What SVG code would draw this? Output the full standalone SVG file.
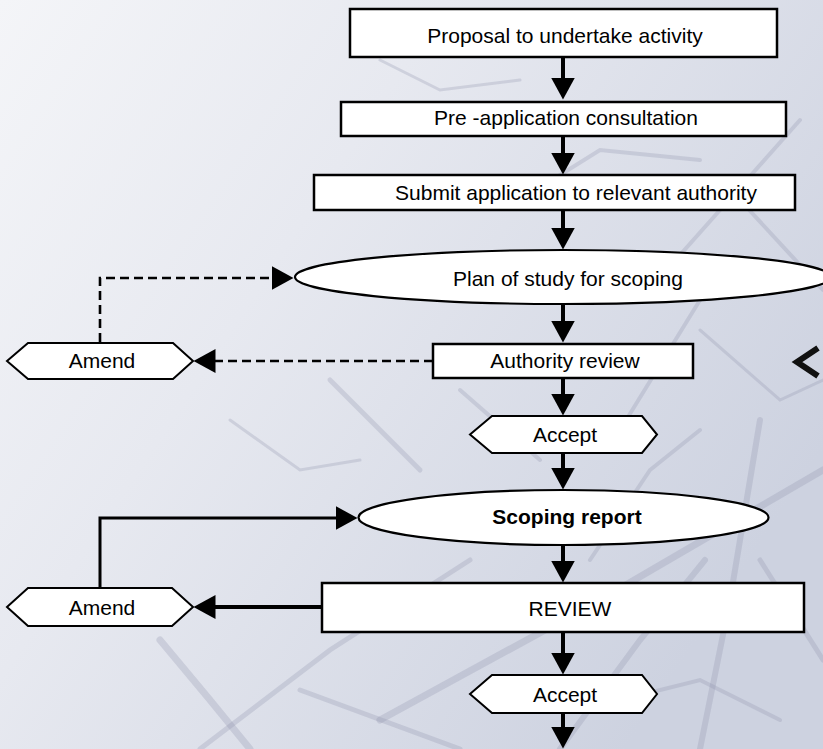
<svg xmlns="http://www.w3.org/2000/svg" width="823" height="749" viewBox="0 0 823 749">
  <defs>
    <linearGradient id="bg" x1="0" y1="0" x2="1" y2="0.6">
      <stop offset="0" stop-color="#f4f5f8"/>
      <stop offset="0.4" stop-color="#e7e9f0"/>
      <stop offset="1" stop-color="#cdd2e0"/>
    </linearGradient>
    <marker id="ah" markerUnits="userSpaceOnUse" markerWidth="23" markerHeight="24" viewBox="0 0 23 24" refX="0.5" refY="12" orient="auto">
      <path d="M0,0 L22,12 L0,24 Z" fill="#000"/>
    </marker>
    <style>
      .box { fill: #fff; stroke: #000; stroke-width: 2.5; }
      .ell { fill: #fff; stroke: #000; stroke-width: 2.2; }
      .hex { fill: #fff; stroke: #000; stroke-width: 2; }
      .lbl { font-family: "Liberation Sans", Arial, sans-serif; font-size: 21px; fill: #000; text-anchor: middle; }
      .bold { font-weight: bold; }
      .main { fill: none; stroke: #000; stroke-width: 4; marker-end: url(#ah); }
      .fb { fill: none; stroke: #000; stroke-width: 3; marker-end: url(#ah); }
      .dash { fill: none; stroke: #000; stroke-width: 2.6; stroke-dasharray: 9 5; marker-end: url(#ah); }
      .branch { fill: none; stroke: #8f95ad; stroke-linecap: round; opacity: 0.28; }
    </style>
  </defs>

  <g id="background">
    <rect x="0" y="0" width="823" height="749" fill="url(#bg)"/>
    <path class="branch" stroke-width="7" d="M380,720 L600,600 L823,470"/>
    <path class="branch" stroke-width="5" d="M200,749 L330,650 L470,560"/>
    <path class="branch" stroke-width="6" d="M560,749 L640,640 L705,560"/>
    <path class="branch" stroke-width="4" d="M640,300 L720,210 L800,120"/>
    <path class="branch" stroke-width="6" d="M700,749 L730,600 L760,420"/>
    <path class="branch" stroke-width="5" d="M420,470 L370,420 L330,380"/>
    <path class="branch" stroke-width="7" d="M160,640 L210,700 L250,749"/>
    <path class="branch" stroke-width="5" d="M300,690 L460,749"/>
    <path class="branch" stroke-width="4" d="M740,200 L823,290"/>
    <path class="branch" stroke-width="4" d="M620,430 L700,300"/>
    <path class="branch" stroke-width="4" d="M460,390 L540,460"/>
    <path class="branch" stroke-width="5" d="M760,560 L823,660"/>
    <path class="branch" stroke-width="3" d="M700,330 L780,400 L823,380"/>
    <path class="branch" stroke-width="4" d="M590,560 L650,470 L700,430"/>
    <path class="branch" stroke-width="3" d="M230,420 L300,470 L360,460"/>
    <path class="branch" stroke-width="4" d="M520,200 L600,150 L700,160"/>
    <path class="branch" stroke-width="3" d="M380,60 L440,90 L520,80"/>
    <path class="branch" stroke-width="4" d="M620,700 L700,680 L780,720"/>
  </g>

  <g id="connectors">
    <path class="main" d="M563,57 V78"/>
    <path class="main" d="M563,136 V153"/>
    <path class="main" d="M563,210 V228"/>
    <path class="main" d="M563,304 V321"/>
    <path class="main" d="M563,378 V394"/>
    <path class="main" d="M563,453 V468"/>
    <path class="main" d="M563,545 V561"/>
    <path class="main" d="M563,632 V653"/>
    <path class="main" d="M563,713 V727"/>
    <path class="dash" d="M433,361 H215"/>
    <path class="dash" d="M100,342 V278 H272"/>
    <path class="main" d="M322,607 H215"/>
    <path class="fb" d="M100,588 V518 H336"/>
  </g>

  <g id="proposal">
    <rect class="box" x="350" y="9" width="427" height="48"/>
    <text class="lbl" x="565" y="43">Proposal to undertake activity</text>
  </g>
  <g id="pre-application">
    <rect class="box" x="341" y="102" width="445" height="34"/>
    <text class="lbl" x="566" y="125">Pre -application consultation</text>
  </g>
  <g id="submit">
    <rect class="box" x="314" y="175" width="481" height="35"/>
    <text class="lbl" x="576" y="200">Submit application to relevant authority</text>
  </g>
  <g id="plan-of-study">
    <ellipse class="ell" cx="563" cy="277" rx="268" ry="27"/>
    <text class="lbl" x="568" y="286">Plan of study for scoping</text>
  </g>
  <g id="authority-review">
    <rect class="box" x="433" y="344" width="260" height="34"/>
    <text class="lbl" x="565" y="368">Authority review</text>
  </g>
  <g id="amend-1">
    <polygon class="hex" points="7,361 28,343 173,343 193,361 173,379 28,379"/>
    <text class="lbl" x="102" y="368">Amend</text>
  </g>
  <g id="accept-1">
    <polygon class="hex" points="470,434.5 492,416 642,416 657,434.5 642,453 492,453"/>
    <text class="lbl" x="565" y="442">Accept</text>
  </g>
  <g id="scoping-report">
    <ellipse class="ell" cx="563.5" cy="517.5" rx="205" ry="27.5"/>
    <text class="lbl bold" x="567" y="524">Scoping report</text>
  </g>
  <g id="review">
    <rect class="box" x="322" y="583" width="482" height="49"/>
    <text class="lbl" x="570" y="616">REVIEW</text>
  </g>
  <g id="amend-2">
    <polygon class="hex" points="7,607 28,588 172,588 193,607 172,626 28,626"/>
    <text class="lbl" x="102" y="615">Amend</text>
  </g>
  <g id="accept-2">
    <polygon class="hex" points="470,694 492,675 642,675 657,694 642,713 492,713"/>
    <text class="lbl" x="565" y="702">Accept</text>
  </g>
  <g id="chevron">
    <polyline points="818,348 797,362 818,376" fill="none" stroke="#111" stroke-width="6"/>
  </g>
</svg>
